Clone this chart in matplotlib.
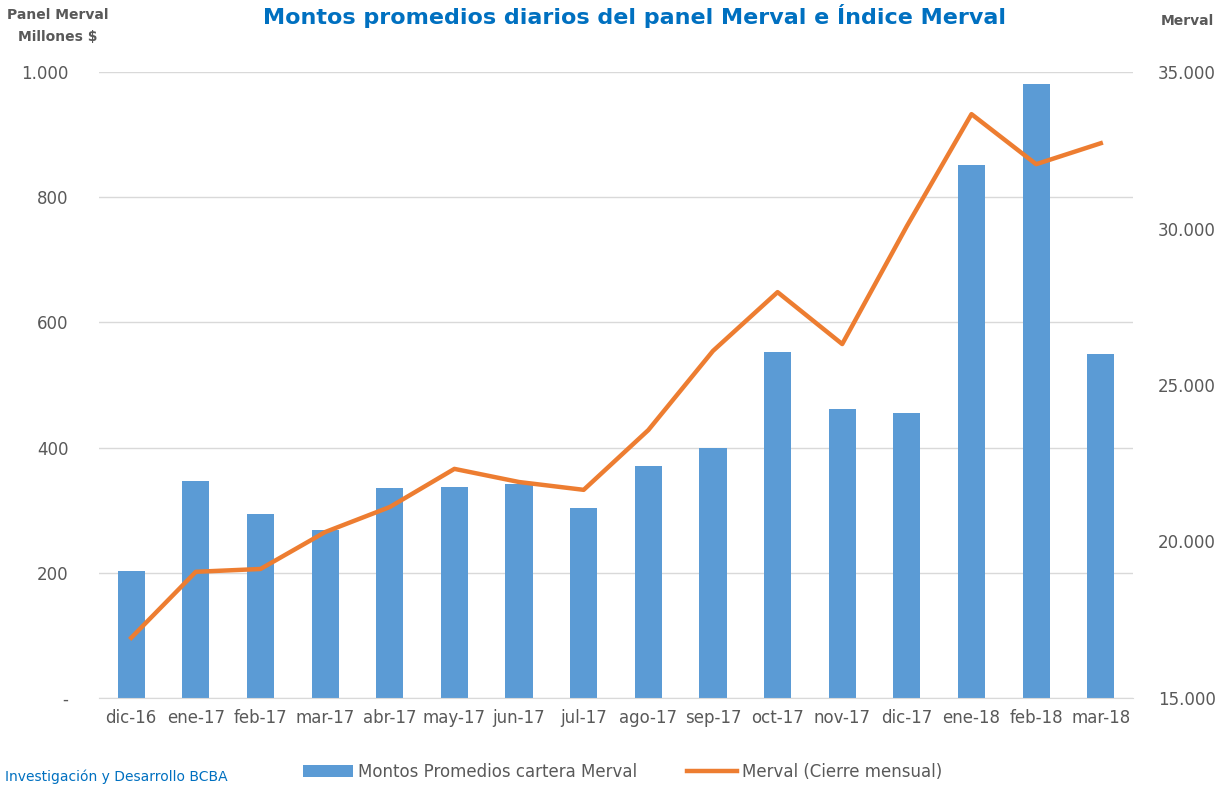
import matplotlib.pyplot as plt
import numpy as np
from matplotlib.ticker import FuncFormatter

meses = ["dic-16", "ene-17", "feb-17", "mar-17", "abr-17", "may-17", "jun-17", "jul-17",
         "ago-17", "sep-17", "oct-17", "nov-17", "dic-17", "ene-18", "feb-18", "mar-18"]
montos = [203, 347, 294, 268, 335, 337, 342, 304, 371, 399, 553, 462, 455, 851, 981, 550]
merval = [16920, 19030, 19120, 20300, 21100, 22320, 21900, 21650,
          23560, 26090, 27970, 26310, 30080, 33660, 32060, 32730]

azul = '#5B9BD5'
naranja = '#ED7D31'
gris = '#595959'


def miles(v, pos):
    if v == 0:
        return "-"
    return "{:,.0f}".format(v).replace(",", ".")


fig = plt.figure(figsize=(12.21, 7.85), dpi=100)
ax = fig.add_axes([0.081, 0.111, 0.847, 0.797])
x = np.arange(len(meses))

ax.bar(x, montos, width=0.42, color=azul, label="Montos Promedios cartera Merval", zorder=2)
ax.set_xlim(-0.5, len(meses) - 0.5)
ax.set_ylim(0, 1000)
ax.set_yticks(np.arange(0, 1001, 200))
ax.yaxis.set_major_formatter(FuncFormatter(miles))
ax.grid(axis='y', color='#D9D9D9', linewidth=1, zorder=0)
ax.set_xticks(x)
ax.set_xticklabels(meses)
for s in ['left', 'right', 'top']:
    ax.spines[s].set_visible(False)
ax.spines['bottom'].set_color('#D9D9D9')
ax.tick_params(axis='y', length=0, pad=22, labelsize=12, labelcolor=gris)
ax.tick_params(axis='x', length=0, pad=8, labelsize=12, labelcolor=gris)

ax2 = ax.twinx()
ax2.plot(x, merval, color=naranja, linewidth=3.2, label="Merval (Cierre mensual)")
ax2.set_ylim(15000, 35000)
ax2.set_yticks(np.arange(15000, 35001, 5000))
ax2.yaxis.set_major_formatter(FuncFormatter(miles))
for s in ax2.spines.values():
    s.set_visible(False)
ax2.tick_params(axis='y', length=0, pad=18, labelsize=12, labelcolor=gris)

fig.text(0.52, 1 - 24 / 785, "Montos promedios diarios del panel Merval e Índice Merval",
         ha='center', va='baseline', fontsize=16, fontweight='bold', color='#0070C0')
fig.text(0.047, 1 - 15 / 785, "Panel Merval", ha='center', va='center',
         fontsize=10, fontweight='bold', color=gris)
fig.text(0.047, 1 - 37 / 785, "Millones $", ha='center', va='center',
         fontsize=10, fontweight='bold', color=gris)
fig.text(0.994, 1 - 21 / 785, "Merval", ha='right', va='center',
         fontsize=10, fontweight='bold', color=gris)
fig.text(0.004, 1 - 781 / 785, "Investigación y Desarrollo BCBA", ha='left', va='baseline',
         fontsize=10, color='#0070C0')

h1, l1 = ax.get_legend_handles_labels()
h2, l2 = ax2.get_legend_handles_labels()
fig.legend(h1 + h2, l1 + l2, loc='center', bbox_to_anchor=(0.51, 1 - 772 / 785),
           ncol=2, frameon=False, fontsize=12, labelcolor=gris, columnspacing=3,
           handlelength=3, handletextpad=0.3)

fig.savefig("out.png", dpi=100)
